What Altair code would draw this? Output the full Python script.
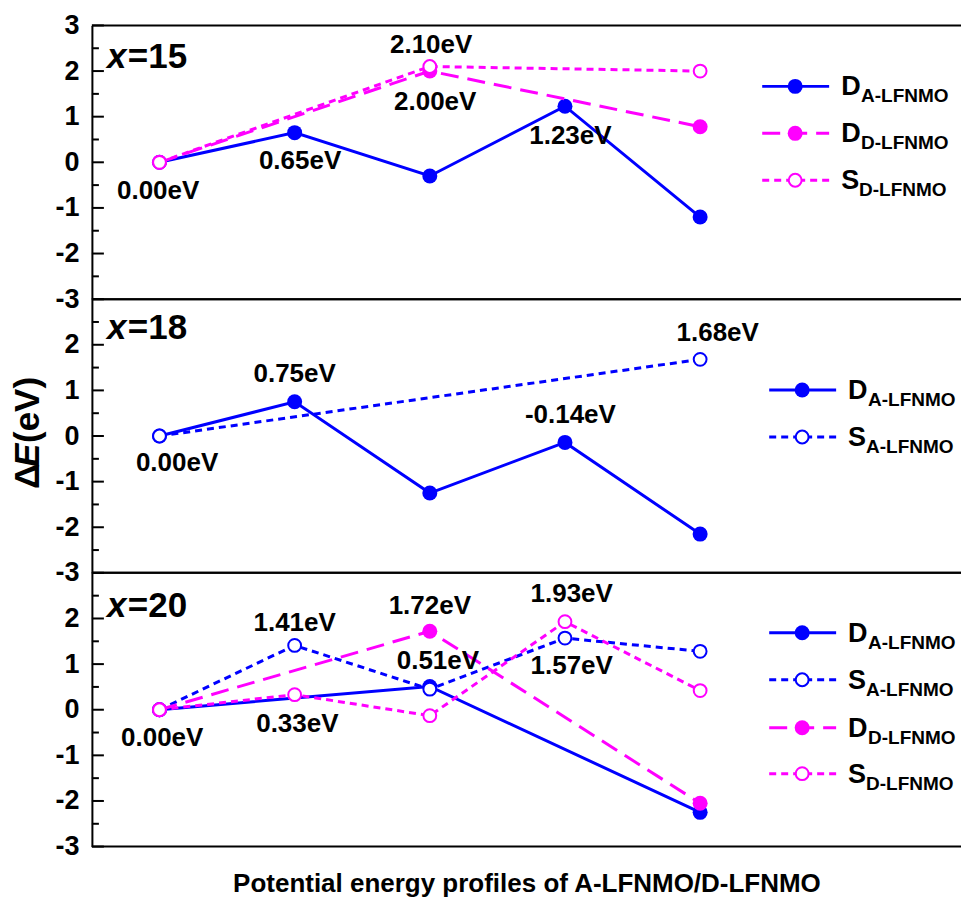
import altair as alt
import pandas as pd

FONT = "Liberation Sans"
BLUE = "#0000FF"
MAG = "#FF00FF"

# ---------------- data ----------------
# panel x=15
p15_DA_x = [1, 2, 3, 4, 5]
p15_DA_y = [0.00, 0.65, -0.30, 1.23, -1.20]
p15_DD_x = [1, 3, 5]
p15_DD_y = [0.00, 2.00, 0.78]
p15_SD_x = [1, 3, 5]
p15_SD_y = [0.00, 2.10, 2.00]
# panel x=18
p18_DA_x = [1, 2, 3, 4, 5]
p18_DA_y = [0.00, 0.75, -1.25, -0.14, -2.15]
p18_SA_x = [1, 5]
p18_SA_y = [0.00, 1.68]
# panel x=20
p20_DA_x = [1, 3, 5]
p20_DA_y = [0.00, 0.51, -2.25]
p20_SA_x = [1, 2, 3, 4, 5]
p20_SA_y = [0.00, 1.41, 0.45, 1.57, 1.28]
p20_DD_x = [1, 3, 5]
p20_DD_y = [0.00, 1.72, -2.05]
p20_SD_x = [1, 2, 3, 4, 5]
p20_SD_y = [0.00, 0.33, -0.13, 1.93, 0.42]

# value annotations (text, anchor x, anchor y)
p15_lab_text = ["0.00eV", "0.65eV", "2.10eV", "2.00eV", "1.23eV"]
p15_lab_x = [0.99, 2.04, 3.01, 3.04, 4.04]
p15_lab_y = [-0.63, 0.02, 2.58, 1.33, 0.57]
p18_lab_text = ["0.00eV", "0.75eV", "-0.14eV", "1.68eV"]
p18_lab_x = [1.13, 2.00, 4.04, 5.13]
p18_lab_y = [-0.59, 1.36, 0.46, 2.25]
p20_lab_text = ["0.00eV", "1.41eV", "0.33eV", "1.72eV", "0.51eV", "1.93eV", "1.57eV"]
p20_lab_x = [1.02, 2.00, 2.02, 3.00, 3.06, 4.05, 4.05]
p20_lab_y = [-0.61, 1.90, -0.31, 2.28, 1.07, 2.54, 0.96]

panel_names = ["15", "18", "20"]
series_letter = {"DA": "D", "SA": "S", "DD": "D", "SD": "S"}
series_sub = {"DA": "A-LFNMO", "SA": "A-LFNMO", "DD": "D-LFNMO", "SD": "D-LFNMO"}

# ---------------- styles ----------------
STYLE = {
    "DA": dict(color=BLUE, dash=None, filled=True),
    "SA": dict(color=BLUE, dash=[7, 5], filled=False),
    "DD": dict(color=MAG, dash=[18, 9], filled=True),
    "SD": dict(color=MAG, dash=[7, 5], filled=False),
}
W, H = 870, 274
xscale = alt.Scale(domain=[0.5, 6.93], nice=False, zero=False)
yscale = alt.Scale(domain=[-3, 3], nice=False, zero=False)
DUMMY = alt.Data(values=[{"a": 1}])


def line_layers(xs, ys, key, X, Y):
    st = STYLE[key]
    df = pd.DataFrame({"x": xs, "y": ys})
    lk = dict(color=st["color"], strokeWidth=3)
    if st["dash"]:
        lk["strokeDash"] = st["dash"]
    line = alt.Chart(df).mark_line(**lk).encode(x=X, y=Y)
    if st["filled"]:
        pt = alt.Chart(df).mark_point(shape="circle", filled=True, color=st["color"],
                                      size=225, opacity=1).encode(x=X, y=Y)
    else:
        pt = alt.Chart(df).mark_point(shape="circle", filled=True, fill="white",
                                      stroke=st["color"], strokeWidth=2, size=165,
                                      opacity=1).encode(x=X, y=Y)
    return [line, pt]


def legend_layers(rows, shift):
    out = []
    for key, yp in rows:
        st = STYLE[key]
        rk = dict(color=st["color"], strokeWidth=3)
        if st["dash"]:
            rk["strokeDash"] = st["dash"]
        out.append(alt.Chart(DUMMY).mark_rule(**rk).encode(
            x=alt.value(671 + shift), x2=alt.value(738 + shift), y=alt.value(yp)))
        if st["filled"]:
            out.append(alt.Chart(DUMMY).mark_point(shape="circle", filled=True, color=st["color"],
                                                   size=225, opacity=1).encode(
                x=alt.value(704 + shift), y=alt.value(yp)))
        else:
            out.append(alt.Chart(DUMMY).mark_point(shape="circle", filled=True, fill="white",
                                                   stroke=st["color"], strokeWidth=2, size=165,
                                                   opacity=1).encode(
                x=alt.value(704 + shift), y=alt.value(yp)))
        out.append(alt.Chart(DUMMY).mark_text(text=series_letter[key], font=FONT, fontSize=27,
                                              fontWeight="bold", align="left", baseline="alphabetic",
                                              color="black").encode(
            x=alt.value(750 + shift), y=alt.value(yp + 9)))
        sub_dx = 20 if series_letter[key] == "D" else 18
        out.append(alt.Chart(DUMMY).mark_text(text=series_sub[key], font=FONT, fontSize=19,
                                              fontWeight="bold", align="left", baseline="alphabetic",
                                              color="black").encode(
            x=alt.value(750 + shift + sub_dx), y=alt.value(yp + 16)))
    return out


def make_panel(series, labs, legend_rows, shift, num, title_base, top3, bottom, ytitle=False):
    yvals = [3, 2, 1, 0, -1, -2, -3] if top3 else [2, 1, 0, -1, -2, -3]
    yaxis = alt.Axis(values=yvals, ticks=False, grid=False, title=None, domainColor="black",
                     domainWidth=2, labelFont=FONT, labelFontSize=27, labelFontWeight="bold",
                     labelColor="black", labelPadding=13, labelExpr="'' + datum.value")
    if bottom:
        xaxis = alt.Axis(title="Potential energy profiles of A-LFNMO/D-LFNMO", labels=False,
                         ticks=False, domain=False, grid=False, titleFont=FONT, titleFontSize=26,
                         titleFontWeight="bold", titleColor="black", titlePadding=24)
    else:
        xaxis = None
    X = alt.X("x:Q", scale=xscale, axis=xaxis)
    Y = alt.Y("y:Q", scale=yscale, axis=yaxis)

    layers = []
    majors = pd.DataFrame({"y": [-3, -2, -1, 0, 1, 2, 3]})
    minors = pd.DataFrame({"y": [-2.5, -1.5, -0.5, 0.5, 1.5, 2.5]})
    layers.append(alt.Chart(majors).mark_rule(color="black", strokeWidth=2).encode(
        y=Y, x=alt.value(0), x2=alt.value(12)))
    layers.append(alt.Chart(minors).mark_rule(color="black", strokeWidth=2).encode(
        y=Y, x=alt.value(0), x2=alt.value(7)))
    layers.append(alt.Chart(DUMMY).mark_rule(color="black", strokeWidth=2).encode(
        x=alt.value(0), x2=alt.value(W), y=alt.value(0)))
    layers.append(alt.Chart(DUMMY).mark_rule(color="black", strokeWidth=2).encode(
        x=alt.value(0), x2=alt.value(W), y=alt.value(H)))

    for key, xs, ys in series:
        layers += line_layers(xs, ys, key, X, Y)

    t, lx, ly = labs
    ldf = pd.DataFrame({"t": t, "x": lx, "y": ly})
    layers.append(alt.Chart(ldf).mark_text(font=FONT, fontSize=26, fontWeight="bold",
                                           color="black", align="center", baseline="middle").encode(
        x=X, y=Y, text="t:N"))

    layers += legend_layers(legend_rows, shift)

    # panel title x=NN
    layers.append(alt.Chart(DUMMY).mark_text(text="x", font=FONT, fontSize=35, fontWeight="bold",
                                             fontStyle="italic", align="left", baseline="alphabetic",
                                             color="black").encode(
        x=alt.value(15), y=alt.value(title_base)))
    layers.append(alt.Chart(DUMMY).mark_text(text="=" + num, font=FONT, fontSize=35,
                                             fontWeight="bold", align="left", baseline="alphabetic",
                                             color="black").encode(
        x=alt.value(36), y=alt.value(title_base)))

    if ytitle:
        for txt, yp, style in [("\u0394", 190, "normal"), ("E", 168, "italic"), ("(eV)", 144, "normal")]:
            layers.append(alt.Chart(DUMMY).mark_text(text=txt, font=FONT, fontSize=35,
                                                     fontWeight="bold", fontStyle=style, angle=270,
                                                     align="left", baseline="middle",
                                                     color="black").encode(
                x=alt.value(-64), y=alt.value(yp)))

    return alt.layer(*layers).properties(width=W, height=H)


p1 = make_panel(
    [("DA", p15_DA_x, p15_DA_y), ("DD", p15_DD_x, p15_DD_y), ("SD", p15_SD_x, p15_SD_y)],
    (p15_lab_text, p15_lab_x, p15_lab_y),
    [("DA", 61), ("DD", 108), ("SD", 155)], 0, panel_names[0], 43, True, False)
p2 = make_panel(
    [("DA", p18_DA_x, p18_DA_y), ("SA", p18_SA_x, p18_SA_y)],
    (p18_lab_text, p18_lab_x, p18_lab_y),
    [("DA", 91), ("SA", 138)], 7, panel_names[1], 40, False, False, ytitle=True)
p3 = make_panel(
    [("DA", p20_DA_x, p20_DA_y), ("SA", p20_SA_x, p20_SA_y),
     ("DD", p20_DD_x, p20_DD_y), ("SD", p20_SD_x, p20_SD_y)],
    (p20_lab_text, p20_lab_x, p20_lab_y),
    [("DA", 60), ("SA", 107), ("DD", 155), ("SD", 201)], 7, panel_names[2], 44, False, True)

chart = alt.vconcat(p1, p2, p3, spacing=0, bounds="flush").properties(
    padding={"left": 11, "top": 11, "right": 0, "bottom": 0},
    background="white",
).configure_view(stroke=None)

chart.save("out.html", embed_options={"renderer": "svg", "actions": False})
